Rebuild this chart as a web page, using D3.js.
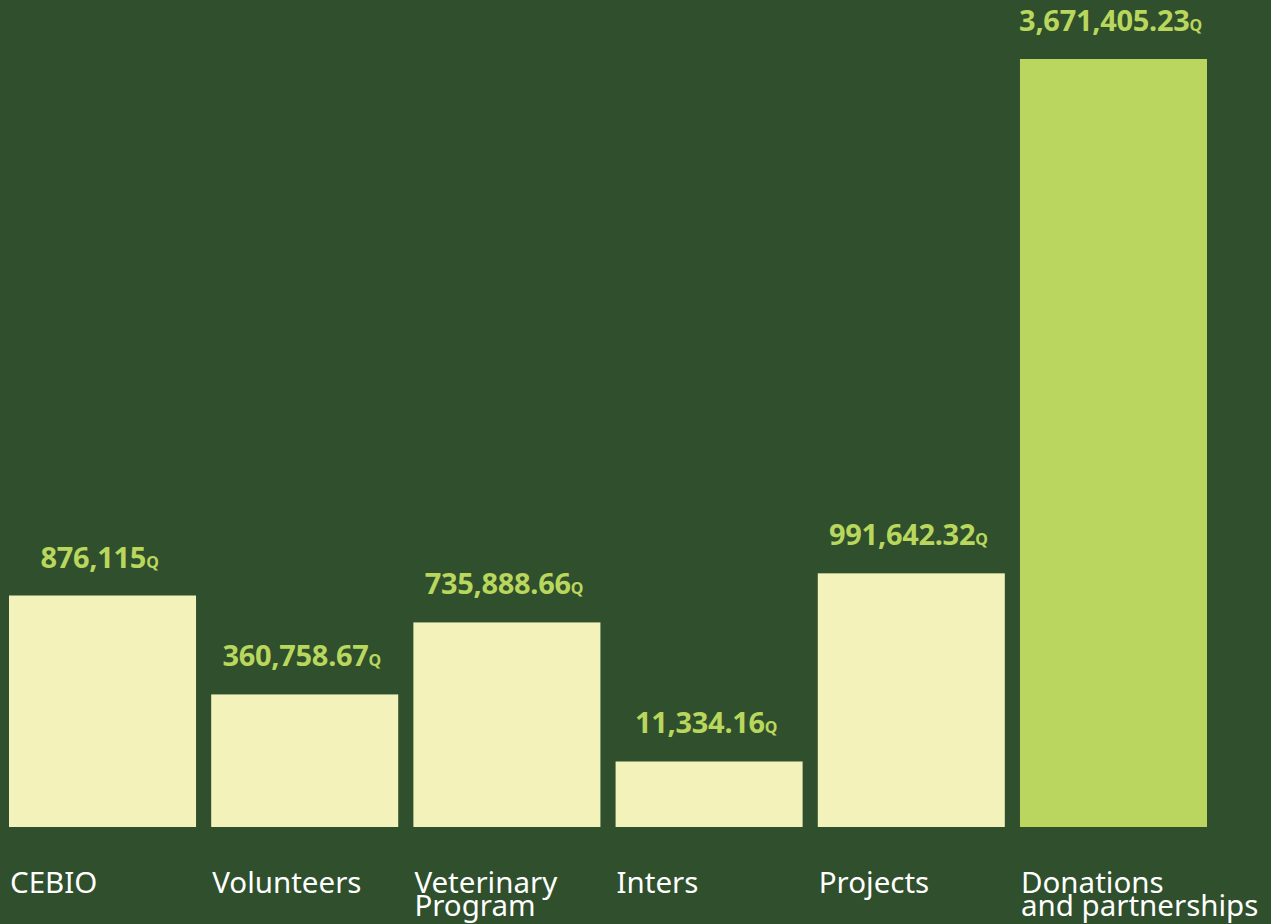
<!DOCTYPE html>
<html>
<head>
<meta charset="utf-8">
<script src="https://cdn.jsdelivr.net/npm/d3@7"></script>
<style>
  html, body { margin: 0; padding: 0; background: #2f4f2d; }
  svg { display: block; }
</style>
</head>
<body>
<div id="chart"></div>
<script>
// Data
const categories = ['CEBIO', 'Volunteers', 'Veterinary Program', 'Inters', 'Projects', 'Donations and partnerships']
const categoryLines = [['CEBIO'], ['Volunteers'], ['Veterinary', 'Program'], ['Inters'], ['Projects'], ['Donations', 'and partnerships']]
const amounts = [876115, 360758.67, 735888.66, 11334.16, 991642.32, 3671405.23]
const amountLabels = ['876,115', '360,758.67', '735,888.66', '11,334.16', '991,642.32', '3,671,405.23']
const highlight = [false, false, false, false, false, true]

const width = 1271
const height = 924
const baseline = 827

const svg = d3.select('#chart')
  .append('svg')
  .attr('width', width)
  .attr('height', height)

svg.append('rect')
  .attr('width', width)
  .attr('height', height)
  .attr('fill', '#2f4f2d')

// x: one band per category
const x = d3.scaleBand()
  .domain(categories)
  .range([9, 1207])
  .paddingInner(0.075)
  .paddingOuter(0)

// y: linear, with the infographic's lifted floor so small bars stay visible
const y = d3.scaleLinear()
  .domain([-330000, d3.max(amounts)])
  .range([baseline, 59])

const rows = categories.map((c, i) => ({
  cat: c,
  lines: categoryLines[i],
  value: amounts[i],
  label: amountLabels[i],
  hi: highlight[i],
}))

// Bars
svg.append('g')
  .selectAll('rect')
  .data(rows)
  .join('rect')
  .attr('x', d => x(d.cat))
  .attr('y', d => y(d.value))
  .attr('width', x.bandwidth())
  .attr('height', d => baseline - y(d.value))
  .attr('fill', d => d.hi ? '#bad65f' : '#f3f2bb')

// Value labels
const vl = svg.append('g')
  .selectAll('text')
  .data(rows)
  .join('text')
  .attr('x', d => x(d.cat) + x.bandwidth() / 2 - 3)
  .attr('y', d => y(d.value) - 28)
  .attr('text-anchor', 'middle')
  .style('font-family', '"Noto Sans", sans-serif')
  .style('font-weight', 700)
  .style('font-size', '29px')
  .style('letter-spacing', '-0.3px')
  .style('fill', '#b9d65d')

vl.append('tspan').text(d => d.label)
vl.append('tspan')
  .style('font-size', '16px')
  .text('Q')

// Category labels
const cl = svg.append('g')
  .selectAll('text')
  .data(rows)
  .join('text')
  .attr('x', d => x(d.cat) + 1)
  .attr('y', 893)
  .style('font-family', '"Noto Sans", sans-serif')
  .style('font-size', '29.5px')
  .style('fill', '#ffffff')

cl.selectAll('tspan')
  .data(d => d.lines.map(t => ({ t, x: x(d.cat) + 1 })))
  .join('tspan')
  .attr('x', d => d.x)
  .attr('dy', (d, i) => i === 0 ? 0 : 23)
  .text(d => d.t)
</script>
</body>
</html>
